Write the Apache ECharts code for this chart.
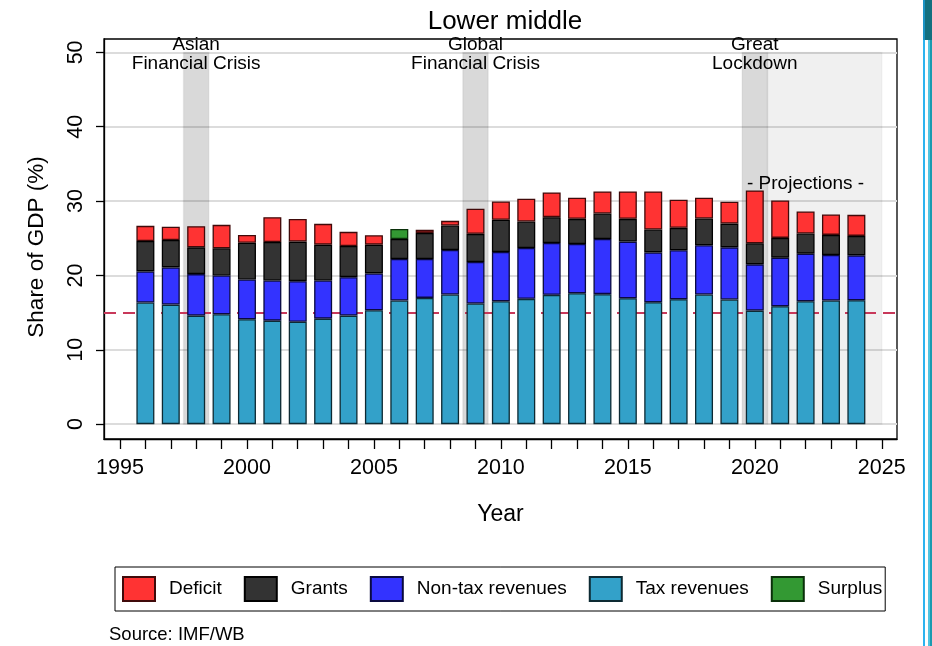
<!DOCTYPE html>
<html>
<head>
<meta charset="utf-8">
<script src="https://cdn.jsdelivr.net/npm/echarts@6/dist/echarts.min.js"></script>
<style>
html,body{margin:0;padding:0;background:#fff;}
#chart{width:932px;height:646px;}
</style>
</head>
<body>
<div id="chart"></div>
<script>
// ---- Data (share of GDP, %) ----
const years = [1996,1997,1998,1999,2000,2001,2002,2003,2004,2005,2006,2007,2008,2009,2010,2011,2012,2013,2014,2015,2016,2017,2018,2019,2020,2021,2022,2023,2024];
const taxRevenues = [16.35,16.08,14.6,14.77,14.1,13.92,13.78,14.19,14.6,15.32,16.62,16.98,17.43,16.22,16.53,16.85,17.39,17.61,17.48,16.94,16.4,16.8,17.43,16.76,15.27,15.86,16.53,16.62,16.67];
const nonTaxRevenues = [4.19,5.0,5.58,5.23,5.36,5.4,5.45,5.13,5.17,4.95,5.58,5.22,5.99,5.58,6.62,6.84,6.98,6.62,7.42,7.61,6.7,6.58,6.62,7.02,6.22,6.53,6.4,6.13,6.03];
const grants = [4.1,3.69,3.6,3.65,4.94,5.18,5.32,4.82,4.19,3.87,2.7,3.52,3.29,3.79,4.33,3.56,3.47,3.38,3.43,3.06,3.07,3.02,3.61,3.19,2.83,2.66,2.7,2.7,2.62];
const deficit = [2.03,1.77,2.84,3.15,1.05,3.34,3.05,2.8,1.9,1.26,null,0.41,0.63,3.38,2.47,3.07,3.33,2.84,2.97,3.69,5.13,3.78,2.79,2.94,7.12,5.04,2.97,2.75,2.83];
const surplus = [null,null,null,null,null,null,null,null,null,null,1.36,null,null,null,null,null,null,null,null,null,null,null,null,null,null,null,null,null,null];

const crisisBands = [
  {name: 'Asian\nFinancial Crisis', from: 1997.5, to: 1998.5},
  {name: 'Global\nFinancial Crisis', from: 2008.5, to: 2009.5},
  {name: 'Great\nLockdown', from: 2019.5, to: 2020.5}
];
const projectionBand = {from: 2020.5, to: 2025, label: '- Projections -', labelYear: 2022, labelValue: 32.3};
const referenceLine = 15;
const bandTop = 50;

const yTicks = [0,10,20,30,40,50];
const xLabels = [1995,2000,2005,2010,2015,2020,2025];
const xTicks = [1995,1996,1997,1998,1999,2000,2001,2002,2003,2004,2005,2006,2007,2008,2009,2010,2011,2012,2013,2014,2015,2016,2017,2018,2019,2020,2021,2022,2023,2024,2025];

const FONT = "'Liberation Sans', Arial, Helvetica, sans-serif";
// value first so the library stacks the value dimension
const pair = arr => years.map((y, i) => [arr[i], y]);

function barSeries(name, arr, color, border) {
  return {
    name: name, type: 'bar', stack: 'total', barWidth: 18, z: 3,
    encode: {x: 1, y: 0},
    data: pair(arr),
    itemStyle: {color: color, borderColor: border, borderWidth: 1.3},
    emphasis: {disabled: true}
  };
}

const chart = echarts.init(document.getElementById('chart'), null, {renderer: 'canvas'});
chart.setOption({
  animation: false,
  backgroundColor: '#fff',
  textStyle: {fontFamily: FONT},
  title: [
    {text: 'Lower middle', left: 500, top: 4, textAlign: 'center',
     textStyle: {fontFamily: FONT, fontSize: 26, fontWeight: 'normal', color: '#000'}},
    {text: 'Source: IMF/WB', left: 104, top: 620,
     textStyle: {fontFamily: FONT, fontSize: 18.5, fontWeight: 'normal', color: '#000'}}
  ],
  grid: {left: 104, right: 35, top: 39, bottom: 207, show: true, borderColor: '#000', borderWidth: 1.3, backgroundColor: 'transparent'},
  legend: {
    data: ['Deficit', 'Grants', 'Non-tax revenues', 'Tax revenues', 'Surplus'],
    left: 115, top: 567,
    icon: 'rect',
    itemWidth: 32, itemHeight: 24, itemGap: 22,
    padding: [9, 3, 9, 7],
    borderColor: '#000', borderWidth: 1,
    textStyle: {fontFamily: FONT, fontSize: 19, color: '#000', padding: [0, 0, 0, 9]}
  },
  xAxis: {
    type: 'value', min: 1994.37, max: 2025.6,
    name: 'Year', nameLocation: 'middle', nameGap: 64,
    nameTextStyle: {fontFamily: FONT, fontSize: 23, color: '#000'},
    axisLine: {show: true, onZero: false, lineStyle: {color: '#000', width: 1.3}},
    axisTick: {show: true, length: 10, customValues: xTicks, lineStyle: {color: '#000', width: 1.3}},
    axisLabel: {customValues: xLabels, margin: 18, fontFamily: FONT, fontSize: 21.5, color: '#000', formatter: v => String(v)},
    splitLine: {show: false}
  },
  yAxis: {
    type: 'value', min: -2, max: 51.8,
    name: 'Share of GDP (%)', nameLocation: 'middle', nameGap: 56,
    nameTextStyle: {fontFamily: FONT, fontSize: 22.5, color: '#000', padding: [0, 16, 0, 0]},
    axisLine: {show: true, onZero: false, lineStyle: {color: '#000', width: 1.3}},
    axisTick: {show: true, length: 8, customValues: yTicks, lineStyle: {color: '#000', width: 1.3}},
    axisLabel: {customValues: yTicks, rotate: 90, margin: 17, fontFamily: FONT, fontSize: 21.5, color: '#000', formatter: v => String(v)},
    splitLine: {show: true, lineStyle: {color: '#dcdcdc', width: 2}}
  },
  series: [
    {
      name: 'bands', type: 'line', data: [], z: 1, silent: true,
      markArea: {
        silent: true,
        data: crisisBands.map(b => [
          {xAxis: b.from, yAxis: 0, name: b.name,
           itemStyle: {color: 'rgba(0,0,0,0.15)', borderColor: 'rgba(0,0,0,0.05)', borderWidth: 1.5},
           label: {show: true, position: 'insideTop', offset: [0, -21], fontFamily: FONT, fontSize: 19, color: '#000', lineHeight: 19}},
          {xAxis: b.to, yAxis: bandTop}
        ]).concat([[
          {xAxis: projectionBand.from, yAxis: 0,
           itemStyle: {color: 'rgba(0,0,0,0.06)', borderColor: 'rgba(0,0,0,0.04)', borderWidth: 1.5},
           label: {show: false}},
          {xAxis: projectionBand.to, yAxis: bandTop}
        ]])
      },
      markLine: {
        silent: true, symbol: 'none', z: 1,
        data: [{yAxis: referenceLine}],
        lineStyle: {color: '#c8385a', type: [12, 7], width: 2},
        label: {show: false}
      },
      markPoint: {
        silent: true, symbol: 'circle', symbolSize: 0,
        data: [{coord: [projectionBand.labelYear, projectionBand.labelValue], value: projectionBand.label}],
        label: {show: true, position: 'inside', formatter: p => p.value, fontFamily: FONT, fontSize: 19, color: '#000'}
      }
    },
    barSeries('Tax revenues', taxRevenues, '#33a1c9', '#0d2a33'),
    barSeries('Non-tax revenues', nonTaxRevenues, '#3333ff', '#0a0a40'),
    barSeries('Grants', grants, '#333333', '#000000'),
    barSeries('Deficit', deficit, '#ff3333', '#400a0a'),
    barSeries('Surplus', surplus, '#339933', '#0a300a')
  ],
  graphic: [
    {type: 'rect', silent: true, shape: {x: 923, y: 0, width: 9, height: 40}, style: {fill: '#13707f'}},
    {type: 'rect', silent: true, shape: {x: 923, y: 0, width: 2, height: 40}, style: {fill: '#1b93c4'}},
    {type: 'rect', silent: true, shape: {x: 923, y: 40, width: 2, height: 606}, style: {fill: '#2db3ef'}},
    {type: 'rect', silent: true, shape: {x: 928, y: 40, width: 2, height: 606}, style: {fill: '#4fc3e0'}},
    {type: 'rect', silent: true, shape: {x: 930, y: 40, width: 2, height: 606}, style: {fill: '#1a9bb0'}}
  ]
});
</script>
</body>
</html>
